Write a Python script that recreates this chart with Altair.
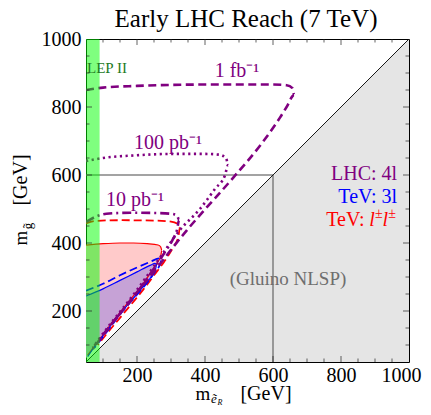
import altair as alt
import pandas as pd

# ---------------- data (GeV) ----------------
AX = [50, 1000]
major_ticks = [200, 400, 600, 800]
minor_ticks = [100, 150, 250, 300, 350, 450, 500, 550, 650, 700, 750, 850, 900, 950]
label_ticks = [200, 400, 600, 800, 1000]

# LHC 4l, 1 fb^-1 (dashed purple)
fb1_x = [50, 100, 200, 300, 400, 500, 600, 640, 658, 662, 640, 620, 570, 482, 385, 347, 300, 250, 200, 160, 120, 90, 70]
fb1_y = [850, 857, 862, 865, 866, 866, 866, 864, 855, 835, 800, 768, 697, 591, 482, 438, 380, 315, 255, 205, 155, 115, 88]
# LHC 4l, 100 pb^-1 (dotted purple)
pb100_x = [50, 100, 200, 300, 400, 440, 462, 468, 459, 430, 385, 326, 280, 240, 200, 160, 120, 90, 70]
pb100_y = [641, 650, 658, 662, 662, 660, 650, 629, 600, 560, 500, 438, 375, 318, 262, 210, 160, 120, 92]
# LHC 4l, 10 pb^-1 (dash-dot purple)
pb10_x = [50, 80, 110, 180, 260, 300, 318, 324, 318, 305, 280, 250, 215, 180, 140, 100, 75]
pb10_y = [462, 478, 486, 489, 488, 486, 480, 468, 440, 410, 370, 325, 275, 228, 180, 130, 98]
# TeV l+-l+- dashed (red)
redd_x = [50, 80, 150, 250, 300, 318, 326, 322, 305, 280, 250, 220, 185, 150, 115, 85]
redd_y = [458, 465, 467, 466, 463, 457, 445, 420, 385, 345, 305, 265, 222, 180, 138, 100]
# TeV l+-l+- solid (red)
reds_x = [50, 100, 150, 190, 230, 262, 270, 273, 270, 262, 245, 220, 190, 160, 130, 100, 75, 55]
reds_y = [394, 398, 400, 400, 398, 394, 388, 378, 362, 345, 320, 283, 245, 208, 170, 130, 97, 70]
# TeV 3l dashed (blue)
blued_x = [50, 100, 150, 200, 240, 265, 272, 268, 255, 235, 210, 180, 150, 120, 95, 75]
blued_y = [260, 280, 305, 328, 345, 355, 352, 338, 318, 290, 260, 225, 190, 150, 118, 92]
# TeV 3l solid (blue)
blues_x = [50, 100, 150, 200, 240, 253, 258, 255, 245, 225, 200, 170, 140, 110, 88, 70, 55]
blues_y = [244, 265, 290, 315, 335, 340, 336, 325, 305, 280, 250, 215, 180, 140, 112, 88, 66]

# filled regions (x, upper, lower)
pink_x = [50, 75, 100, 130, 160, 190, 220, 245, 262, 270, 273]
pink_top = [394, 396, 398, 399, 400, 400, 399, 397, 394, 388, 378]
pink_bot = [62, 97, 130, 170, 208, 245, 283, 320, 345, 362, 378]
lav_x = [50, 70, 88, 110, 140, 170, 200, 225, 245, 253, 258]
lav_top = [244, 253, 261, 270, 285, 300, 315, 328, 336, 340, 336]
lav_bot = [62, 88, 112, 140, 180, 215, 250, 280, 305, 318, 336]

nlsp_x = [50, 1000]
nlsp_top = [50, 1000]
lep_range = [50, 90]
gluino_line = 600

# ---------------- chart ----------------
SERIF = "Liberation Serif"
PURPLE = "#800080"
RED = "#ff0000"
BLUE = "#0000ff"
xs = alt.Scale(domain=AX, nice=False, zero=False)
ys = alt.Scale(domain=AX, nice=False, zero=False)

xaxis = alt.Axis(values=label_ticks, format="d", title=None, ticks=False, domain=False, grid=False,
                 labelFont=SERIF, labelFontSize=20, labelColor="black", labelPadding=3,
                 labelFlush=True, labelFlushOffset=12)
yaxis = alt.Axis(values=label_ticks, format="d", title=None, ticks=False, domain=False, grid=False,
                 labelFont=SERIF, labelFontSize=20, labelColor="black", labelPadding=5,
                 labelFlush=False)


def X(f="x"):
    return alt.X(f"{f}:Q", scale=xs, axis=xaxis)


def Y(f="y"):
    return alt.Y(f"{f}:Q", scale=ys, axis=yaxis)


nlsp = alt.Chart(pd.DataFrame({"x": nlsp_x, "y": nlsp_top, "y2": [AX[0], AX[0]]})).mark_area(
    color="#e5e5e5", opacity=1).encode(x=X(), y=Y(), y2="y2:Q")

pink = alt.Chart(pd.DataFrame({"x": pink_x, "y": pink_top, "y2": pink_bot})).mark_area(
    color="#ffcaca", opacity=1).encode(x=X(), y=Y(), y2="y2:Q")
lav = alt.Chart(pd.DataFrame({"x": lav_x, "y": lav_top, "y2": lav_bot})).mark_area(
    color="#c6a2d6", opacity=1).encode(x=X(), y=Y(), y2="y2:Q")

glu_df = pd.DataFrame({"x": [gluino_line, AX[0]], "y": [AX[0], gluino_line],
                       "x2": [gluino_line, gluino_line], "y2": [gluino_line, gluino_line]})
glu = alt.Chart(glu_df).mark_rule(color="#858585", strokeWidth=1.6).encode(
    x=X(), y=Y(), x2="x2:Q", y2="y2:Q")

diag = alt.Chart(pd.DataFrame({"x": nlsp_x, "y": nlsp_top})).mark_line(
    color="black", strokeWidth=0.9).encode(x=X(), y=Y())


def curve(xv, yv, color, width, dash=None):
    df = pd.DataFrame({"x": xv, "y": yv, "i": list(range(len(xv)))})
    kw = dict(color=color, strokeWidth=width, clip=True, interpolate="monotone")
    if dash:
        kw["strokeDash"] = dash
    return alt.Chart(df).mark_line(**kw).encode(x=X(), y=Y(), order="i:Q")


curves = [
    curve(reds_x, reds_y, RED, 1.2),
    curve(redd_x, redd_y, RED, 1.8, [8, 4]),
    curve(blues_x, blues_y, BLUE, 1.2),
    curve(blued_x, blued_y, BLUE, 1.8, [8, 4]),
    curve(pb10_x, pb10_y, PURPLE, 2.6, [9, 4, 2, 4]),
    curve(pb100_x, pb100_y, PURPLE, 2.6, [2.2, 3.5]),
    curve(fb1_x, fb1_y, PURPLE, 2.6, [8, 4.5]),
]

lep = alt.Chart(pd.DataFrame({"x": [lep_range[0]], "x2": [lep_range[1]],
                              "y": [AX[0]], "y2": [AX[1]]})).mark_rect(
    color="#00ff00", opacity=0.5).encode(x=X(), x2="x2:Q", y=Y(), y2="y2:Q")


def label(txt, x, y, color, size, align="center", italic=False, baseline="middle"):
    df = pd.DataFrame({"x": [x], "y": [y], "t": [txt]})
    return alt.Chart(df).mark_text(font=SERIF, fontSize=size, color=color, align=align,
                                   baseline=baseline,
                                   fontStyle="italic" if italic else "normal").encode(
        x=X(), y=Y(), text="t:N")


labels = [
    label("LEP II", 53, 915, "#1f7a1f", 15, align="left"),
    label("1 fb⁻¹", 494, 907, PURPLE, 20),
    label("100 pb⁻¹", 291, 693, PURPLE, 20),
    label("10 pb⁻¹", 194, 526, PURPLE, 20),
    label("LHC: 4l", 965, 585, PURPLE, 20, align="right", baseline="alphabetic"),
    label("TeV: 3l", 965, 518, BLUE, 20, align="right", baseline="alphabetic"),
    label("TeV:", 869, 450, RED, 20, align="right", baseline="alphabetic"),
    label("l", 883, 450, RED, 20, align="left", italic=True, baseline="alphabetic"),
    label("±", 900, 473, RED, 14, align="left", baseline="alphabetic"),
    label("l", 922, 450, RED, 20, align="left", italic=True, baseline="alphabetic"),
    label("±", 939, 473, RED, 14, align="left", baseline="alphabetic"),
    label("(Gluino NLSP)", 644, 294, "#6e6e6e", 19),
]


def ticks(vals, length):
    size = 2 * length
    n = len(vals)
    lo, hi = AX
    parts = []
    for fixed in (lo, hi):
        parts.append(alt.Chart(pd.DataFrame({"x": vals, "y": [fixed] * n})).mark_tick(
            orient="vertical", size=size, thickness=1, color="#222", clip=True).encode(x=X(), y=Y()))
        parts.append(alt.Chart(pd.DataFrame({"x": [fixed] * n, "y": vals})).mark_tick(
            orient="horizontal", size=size, thickness=1, color="#222", clip=True).encode(x=X(), y=Y()))
    return parts


tick_layers = ticks(major_ticks, 6) + ticks(minor_ticks, 3.5)


def ptext(txt, x, y, size, angle=0, italic=False, align="center", baseline="alphabetic"):
    df = pd.DataFrame({"t": [txt]})
    kw = dict(font=SERIF, fontSize=size, color="black", align=align, baseline=baseline,
              fontStyle="italic" if italic else "normal")
    if angle:
        kw["angle"] = angle
    return alt.Chart(df).mark_text(**kw).encode(x=alt.value(x), y=alt.value(y), text="t:N")


titles = [
    ptext("Early LHC Reach (7 TeV)", 160, -12, 25),
    ptext("m", 117, 361, 19),
    ptext("ẽ", 128, 364, 13, italic=True),
    ptext("R", 134, 366, 8, italic=True),
    ptext("[GeV]", 180, 361, 20),
    ptext("m", -59, 199, 19, angle=270),
    ptext("g̃", -54, 187, 13, angle=270),
    ptext("[GeV]", -59, 141, 20, angle=270),
]

chart = alt.layer(nlsp, pink, lav, glu, diag, *curves, lep, *labels, *tick_layers, *titles).properties(
    width=323, height=323,
    autosize=alt.AutoSizeParams(type="none"),
    padding={"left": 78, "top": 31, "right": 14, "bottom": 44},
).configure_view(stroke="black", strokeWidth=1)

chart.save("out.html", embed_options={"renderer": "svg", "actions": False})
